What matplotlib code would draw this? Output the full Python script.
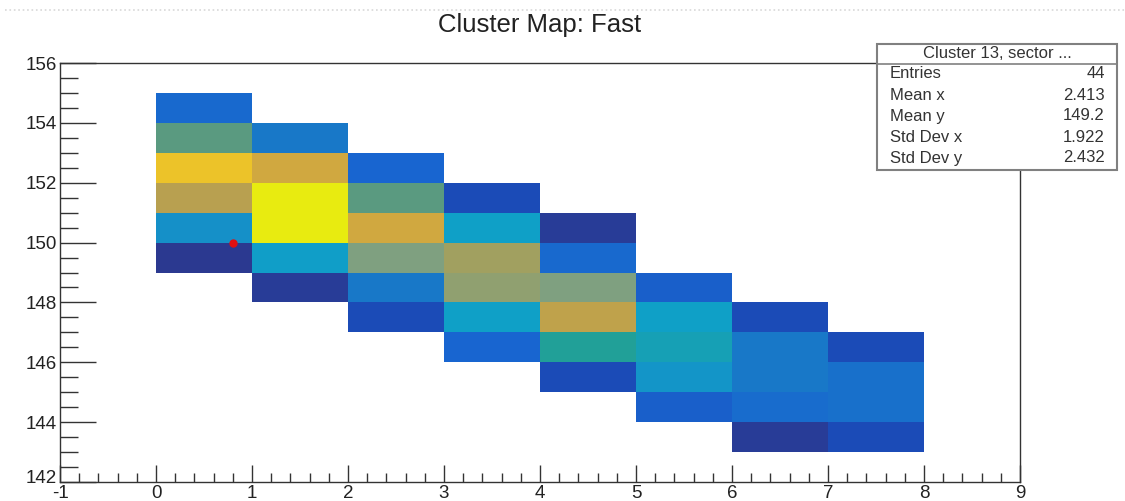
import numpy as np
import matplotlib
matplotlib.use("Agg")
import matplotlib.pyplot as plt
from matplotlib.colors import LinearSegmentedColormap
from matplotlib.patches import Rectangle
from matplotlib.ticker import MultipleLocator
from matplotlib.transforms import ScaledTranslation

plt.rcParams['font.family'] = ['Liberation Sans', 'DejaVu Sans']
plt.rcParams['axes.unicode_minus'] = False

# histogram content, one list per x column (bottom bin first)
col_x = [0, 1, 2, 3, 4, 5, 6, 7]
col_ylow = [149, 148, 147, 146, 145, 144, 143, 143]
col_vals = [
    [0.00, 0.38, 0.78, 0.92, 0.60, 0.22],
    [0.02, 0.44, 1.00, 1.00, 0.85, 0.30],
    [0.12, 0.30, 0.66, 0.85, 0.60, 0.20],
    [0.20, 0.45, 0.69, 0.72, 0.45, 0.12],
    [0.12, 0.52, 0.80, 0.66, 0.22, 0.02],
    [0.18, 0.40, 0.48, 0.45, 0.18],
    [0.02, 0.24, 0.30, 0.30, 0.12],
    [0.12, 0.26, 0.26, 0.12],
]

seed_x = [0.8]
seed_y = [150.0]

stats_title = "Cluster 13, sector ..."
stats_names = ["Entries", "Mean x", "Mean y", "Std Dev x", "Std Dev y"]
stats_values = ["44", "2.413", "149.2", "1.922", "2.432"]

# palette (ROOT kBird-like)
pal_pos = [0.0, 0.12, 0.2, 0.3, 0.38, 0.45, 0.52, 0.6, 0.66, 0.72, 0.78, 0.85, 0.92, 1.0]
pal_col = ["#2b3990", "#1b4bb8", "#1865d0", "#1878c8", "#1590c8", "#0fa0c8", "#20a098",
           "#5a9a80", "#80a080", "#a0a060", "#b8a050", "#d0a840", "#ecc22a", "#e8eb10"]
cmap = LinearSegmentedColormap.from_list("bird", list(zip(pal_pos, pal_col)))

# fill the 2D grid
x_edges = np.arange(0, 9)
y_edges = np.arange(142, 157)
grid = np.full((len(y_edges) - 1, len(x_edges) - 1), np.nan)
for cx, ylo, vals in zip(col_x, col_ylow, col_vals):
    for k, v in enumerate(vals):
        grid[ylo + k - 142, cx] = v
grid = np.ma.masked_invalid(grid)

fig = plt.figure(figsize=(11.25, 5.01), dpi=100)
ax = fig.add_axes([60 / 1125, 19 / 501, 960 / 1125, 419 / 501])
ax.pcolormesh(x_edges, y_edges, grid, cmap=cmap, vmin=0, vmax=1)
ax.plot(seed_x, seed_y, 'o', color='#e01010', markersize=5, zorder=5)

ax.set_xlim(-1, 9)
ax.set_ylim(142, 156)
ax.xaxis.set_major_locator(MultipleLocator(1))
ax.xaxis.set_minor_locator(MultipleLocator(0.2))
ax.yaxis.set_major_locator(MultipleLocator(2))
ax.yaxis.set_minor_locator(MultipleLocator(0.5))
ax.tick_params(axis='both', which='both', direction='in', colors='#333333', labelcolor='#222222',
               labelsize=13.5, width=1.0)
ax.tick_params(axis='x', which='major', length=12, pad=2)
ax.tick_params(axis='x', which='minor', length=6.5)
ax.tick_params(axis='y', which='major', length=26, pad=2)
ax.tick_params(axis='y', which='minor', length=13)
for s in ax.spines.values():
    s.set_color('#333333')
    s.set_linewidth(1.0)

# lift the bottom y label a little so it clears the "-1" below it (as in ROOT)
fig.canvas.draw()
lift = ScaledTranslation(0, 4 / 72, fig.dpi_scale_trans)
for tick in ax.yaxis.get_major_ticks():
    if abs(tick.get_loc() - 142) < 1e-6:
        tick.label1.set_transform(tick.label1.get_transform() + lift)

fig.text(540 / 1125, 1 - 25 / 501, "Cluster Map: Fast", ha='center', va='center',
         fontsize=18.5, color='#222222')

# dotted separator at the very top of the screenshot
fig.add_artist(plt.Line2D([5 / 1125, 1.0], [1 - 10 / 501] * 2, color='#d8d8d8',
                          linestyle=':', linewidth=1.2))

# stats box
bx0, bx1 = 877 / 1125, 1117 / 1125
by0, by1 = 1 - 170 / 501, 1 - 44 / 501
fig.add_artist(Rectangle((bx0, by0), bx1 - bx0, by1 - by0, transform=fig.transFigure,
                         facecolor='white', edgecolor='#808080', linewidth=1.5, zorder=10))
fig.add_artist(plt.Line2D([bx0, bx1], [1 - 64 / 501] * 2, color='#808080', linewidth=1.2, zorder=11))
fig.text((bx0 + bx1) / 2, 1 - 53 / 501, stats_title, ha='center', va='center',
         fontsize=12, color='#333333', zorder=12)
row_y = [74, 95, 116, 137, 158]
for name, val, ry in zip(stats_names, stats_values, row_y):
    fig.text(890 / 1125, 1 - ry / 501, name, ha='left', va='center', fontsize=12,
             color='#333333', zorder=12)
    fig.text(1105 / 1125, 1 - ry / 501, val, ha='right', va='center', fontsize=12,
             color='#333333', zorder=12)

fig.savefig("out.png", dpi=100)
